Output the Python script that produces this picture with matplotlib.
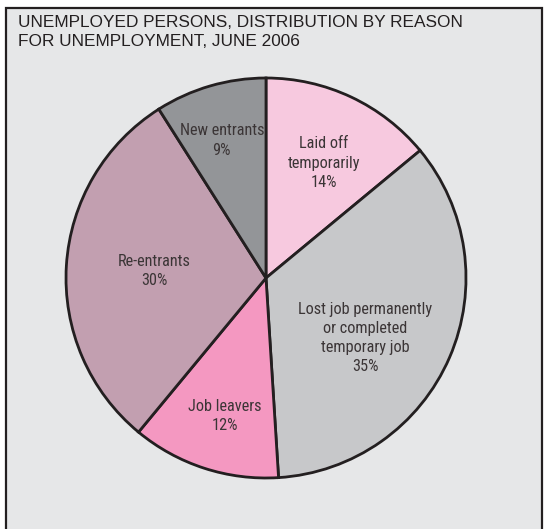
import numpy as np
import matplotlib
matplotlib.use("Agg")
import matplotlib.pyplot as plt
from matplotlib.patches import Rectangle
from matplotlib import font_manager as fm

# Data
categories = ["Laid off\ntemporarily", "Lost job permanently\nor completed\ntemporary job",
              "Job leavers", "Re-entrants", "New entrants"]
shares = [14, 35, 12, 30, 9]
title = "UNEMPLOYED PERSONS, DISTRIBUTION BY REASON\nFOR UNEMPLOYMENT, JUNE 2006"

# Style
colors = ["#f7c9df", "#c7c8ca", "#f498c1", "#c29fb0", "#939598"]
label_dist = [0.644, 0.58, 0.72, 0.56, 0.722]
label_rot = [-1.6, -7.8, 1.5, 0.0, 1.6]
edge = "#231f20"
txt_color = "#3b3536"
bg = "#e6e7e8"

names = {f.name for f in fm.fontManager.ttflist}
cands = ["Liberation Sans Narrow", "DejaVu Sans Condensed", "Roboto Condensed",
         "Open Sans Condensed", "Liberation Sans"]
label_font = next((c for c in cands if c in names), "DejaVu Sans")

W, H = 545, 529
fig = plt.figure(figsize=(W / 100, H / 100), dpi=100, facecolor="white")

# frame
frame = Rectangle((6 / W, -0.05), (542 - 6) / W, 1.05 - 8 / H, transform=fig.transFigure,
                  facecolor=bg, edgecolor=edge, linewidth=1.6, zorder=-10)
fig.patches.append(frame)

fig.text(18 / W, 1 - 15 / H, title, ha="left", va="top", fontsize=12.4,
         family=["Liberation Sans", "DejaVu Sans"], color="#231f20", linespacing=1.3)

cx, cy, r = 266, 278, 200
ax = fig.add_axes([(cx - r) / W, 1 - (cy + r) / H, 2 * r / W, 2 * r / H])
ax.set_zorder(5)
ax.set_facecolor("none")
wedges, _ = ax.pie(shares, colors=colors, startangle=90, counterclock=False, radius=1,
                   wedgeprops=dict(edgecolor=edge, linewidth=2.0))
ax.set_xlim(-1, 1)
ax.set_ylim(-1, 1)
ax.set_aspect("equal")
ax.axis("off")

for w, cat, s, d, rot in zip(wedges, categories, shares, label_dist, label_rot):
    th = np.deg2rad((w.theta1 + w.theta2) / 2 + rot)
    ax.text(d * np.cos(th), d * np.sin(th), f"{cat}\n{s}%", ha="center", va="center",
            fontsize=11.7, color=txt_color, linespacing=1.35,
            family=[label_font, "DejaVu Sans"], stretch="condensed")

fig.savefig("out.png", dpi=100, facecolor="white")
